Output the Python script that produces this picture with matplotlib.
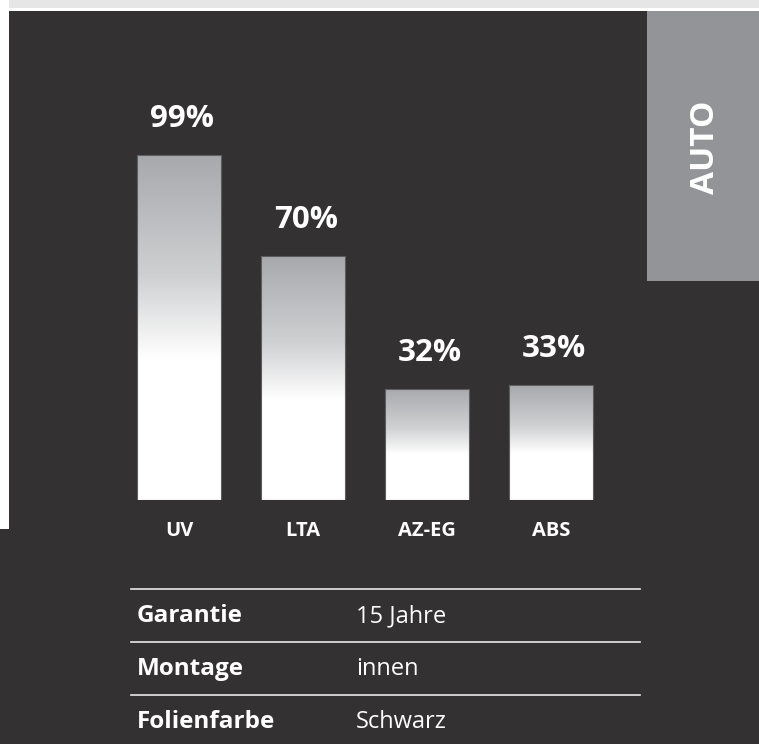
import numpy as np
import matplotlib
matplotlib.use("Agg")
import matplotlib.pyplot as plt
from matplotlib.patches import Rectangle
from matplotlib.colors import LinearSegmentedColormap
import matplotlib.transforms as mtransforms

plt.rcParams['font.family'] = ['Open Sans', 'DejaVu Sans']

# data
categories = ["UV", "LTA", "AZ-EG", "ABS"]
values = [99, 70, 32, 33]
value_labels = ["99%", "70%", "32%", "33%"]
table_keys = ["Garantie", "Montage", "Folienfarbe"]
table_vals = ["15 Jahre", "innen", "Schwarz"]
side_label = "AUTO"

W, H = 759, 744
bg = "#333132"
fig = plt.figure(figsize=(W / 100, H / 100), dpi=100, facecolor=bg)

# background / decoration layer in pixel coords
deco = fig.add_axes([0, 0, 1, 1])
deco.set_xlim(0, W)
deco.set_ylim(H, 0)
deco.axis("off")
deco.add_patch(Rectangle((0, 0), W, 8, color="#e6e6e6", lw=0))
deco.add_patch(Rectangle((0, 8), W, 3, color="white", lw=0))
deco.add_patch(Rectangle((0, 0), 9, 529, color="white", lw=0))
deco.add_patch(Rectangle((647, 11), W - 647, 270, color="#939498", lw=0))
deco.text(705, 147, side_label, rotation=90, ha="center", va="center",
          color="white", fontsize=24, fontweight="bold")

# table
line_y = [589, 642, 695]
for i, (k, v) in enumerate(zip(table_keys, table_vals)):
    deco.plot([131, 640], [line_y[i], line_y[i]], color="#e8e8e8", lw=1.2)
    ty = line_y[i] + 27
    deco.text(137, ty, k, ha="left", va="center", color="white",
              fontsize=17.5, fontweight="bold")
    deco.text(356, ty, v, ha="left", va="center", color="white", fontsize=17)

# bar axes: y=0 at pixel 500, ~3.48 px per percent
px_per = 3.48
ymax = 110
ax_h = ymax * px_per
ax_left = 179 - 62
ax_w = 4 * 124
ax = fig.add_axes([ax_left / W, (H - 500) / H, ax_w / W, ax_h / H])
ax.set_xlim(-0.5, 3.5)
ax.set_ylim(0, ymax)
ax.axis("off")
ax.patch.set_alpha(0)

x = np.arange(len(categories))
bw = 84 / 124
bars = ax.bar(x, values, width=bw, color="none", edgecolor="#5e5e60", lw=0.8, zorder=3)

cmap = LinearSegmentedColormap.from_list(
    "g", [(0, "#a8a9ad"), (0.35, "#cfd0d2"), (0.59, "#ffffff"), (1, "#ffffff")])
grad = np.linspace(0, 1, 256).reshape(-1, 1)
for b in bars:
    bx, by = b.get_x(), b.get_y()
    im = ax.imshow(grad, cmap=cmap, aspect="auto", origin="upper",
                   extent=[bx, bx + b.get_width(), by, by + b.get_height()], zorder=2)
    im.set_clip_path(b)

offs = mtransforms.offset_copy(ax.transData, fig=fig, x=3, y=28, units="dots")
for xi, v, lab in zip(x, values, value_labels):
    ax.text(xi, v, lab, transform=offs, ha="center", va="baseline",
            color="white", fontsize=22.5, fontweight="bold")

offc = mtransforms.offset_copy(ax.transData, fig=fig, x=0, y=-31, units="dots")
for xi, c in zip(x, categories):
    ax.text(xi, 0, c, transform=offc, ha="center", va="center",
            color="white", fontsize=14.5, fontweight="bold")
ax.set_xlim(-0.5, 3.5)
ax.set_ylim(0, ymax)

fig.savefig("out.png", dpi=100, facecolor=bg)
